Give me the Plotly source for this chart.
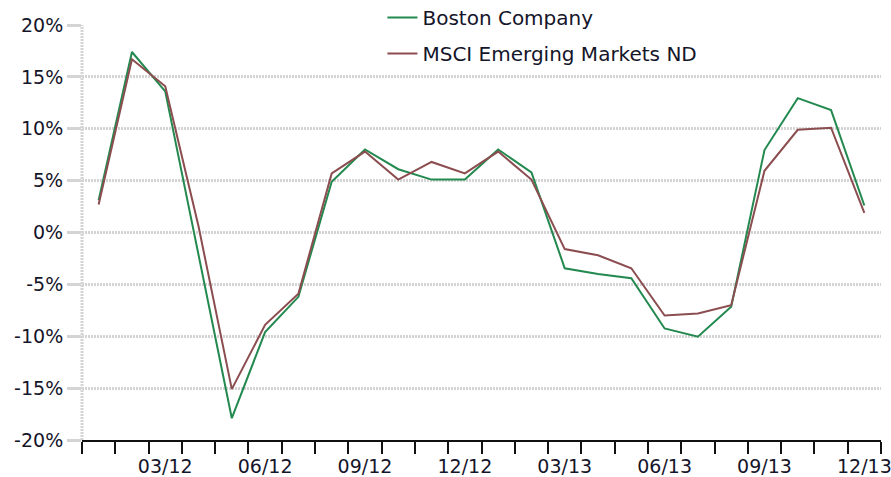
import plotly.graph_objects as go

# Monthly returns (%), Jan 2012 - Dec 2013
months = ["01/12", "02/12", "03/12", "04/12", "05/12", "06/12", "07/12", "08/12",
          "09/12", "10/12", "11/12", "12/12", "01/13", "02/13", "03/13", "04/13",
          "05/13", "06/13", "07/13", "08/13", "09/13", "10/13", "11/13", "12/13"]
boston = [3.1, 17.4, 13.6, -2.0, -17.9, -9.6, -6.2, 4.9, 8.0, 6.1, 5.1, 5.1,
          8.0, 5.8, -3.45, -4.0, -4.4, -9.25, -10.05, -7.15, 7.95, 12.95, 11.8, 2.6]
msci = [2.7, 16.7, 14.1, 0.6, -15.1, -8.9, -5.9, 5.7, 7.8, 5.1, 6.8, 5.7,
        7.8, 5.1, -1.6, -2.2, -3.45, -8.0, -7.8, -7.0, 5.95, 9.9, 10.1, 1.9]
y_ticks = [-20, -15, -10, -5, 0, 5, 10, 15, 20]
series_names = ["Boston Company", "MSCI Emerging Markets ND"]
series_colors = ["#23894f", "#8b4d4f"]

# each month occupies one unit; points sit at the middle of their month
xpos = [i + 0.5 for i in range(len(months))]
label_idx = [i for i in range(len(months)) if (i + 1) % 3 == 0]

FONT = "DejaVu Sans, Verdana, sans-serif"
TEXT = "#15152a"
GRID = "#d4d4d4"

fig = go.Figure()
for name, vals, col, grp in zip(series_names, [boston, msci], series_colors, ["a", "b"]):
    fig.add_trace(go.Scatter(
        x=xpos, y=vals, mode="lines", name=name, legendgroup=grp,
        line=dict(color=col, width=2),
    ))

fig.update_layout(
    width=891, height=477,
    margin=dict(l=82, r=10, t=25, b=37, autoexpand=False),
    paper_bgcolor="white", plot_bgcolor="white",
    font=dict(family=FONT, size=19, color=TEXT),
    showlegend=True,
    legend=dict(
        x=0.376, xanchor="left", y=1.065, yanchor="top",
        bgcolor="rgba(0,0,0,0)", font=dict(size=20, color=TEXT),
        traceorder="grouped", tracegroupgap=7,
    ),
    xaxis=dict(
        range=[0, len(months)],
        tickmode="array",
        tickvals=[xpos[i] for i in label_idx],
        ticktext=[months[i] for i in label_idx],
        ticks="outside", ticklen=8, tickcolor="rgba(0,0,0,0)",
        ticklabeloverflow="allow",
        showgrid=False, zeroline=False,
        showline=True, linecolor="#111111", linewidth=2,
        minor=dict(tick0=0, dtick=1, ticks="outside", ticklen=12,
                   tickwidth=2, tickcolor="#111111", showgrid=False),
        tickfont=dict(size=19),
    ),
    yaxis=dict(
        range=[-20, 20],
        tickmode="array", tickvals=y_ticks,
        ticktext=[f"{v}%" for v in y_ticks],
        ticks="outside", ticklen=14, tickwidth=3, tickcolor=GRID,
        showgrid=True, gridcolor=GRID, gridwidth=3, griddash="2px,1px",
        zeroline=False, showline=False,
        tickfont=dict(size=19),
    ),
)

# dotted left spine
fig.add_shape(type="line", xref="paper", yref="paper", x0=0, x1=0, y0=0, y1=1,
              line=dict(color=GRID, width=3, dash="2px,1px"), layer="below")

fig.write_html("out.html")
